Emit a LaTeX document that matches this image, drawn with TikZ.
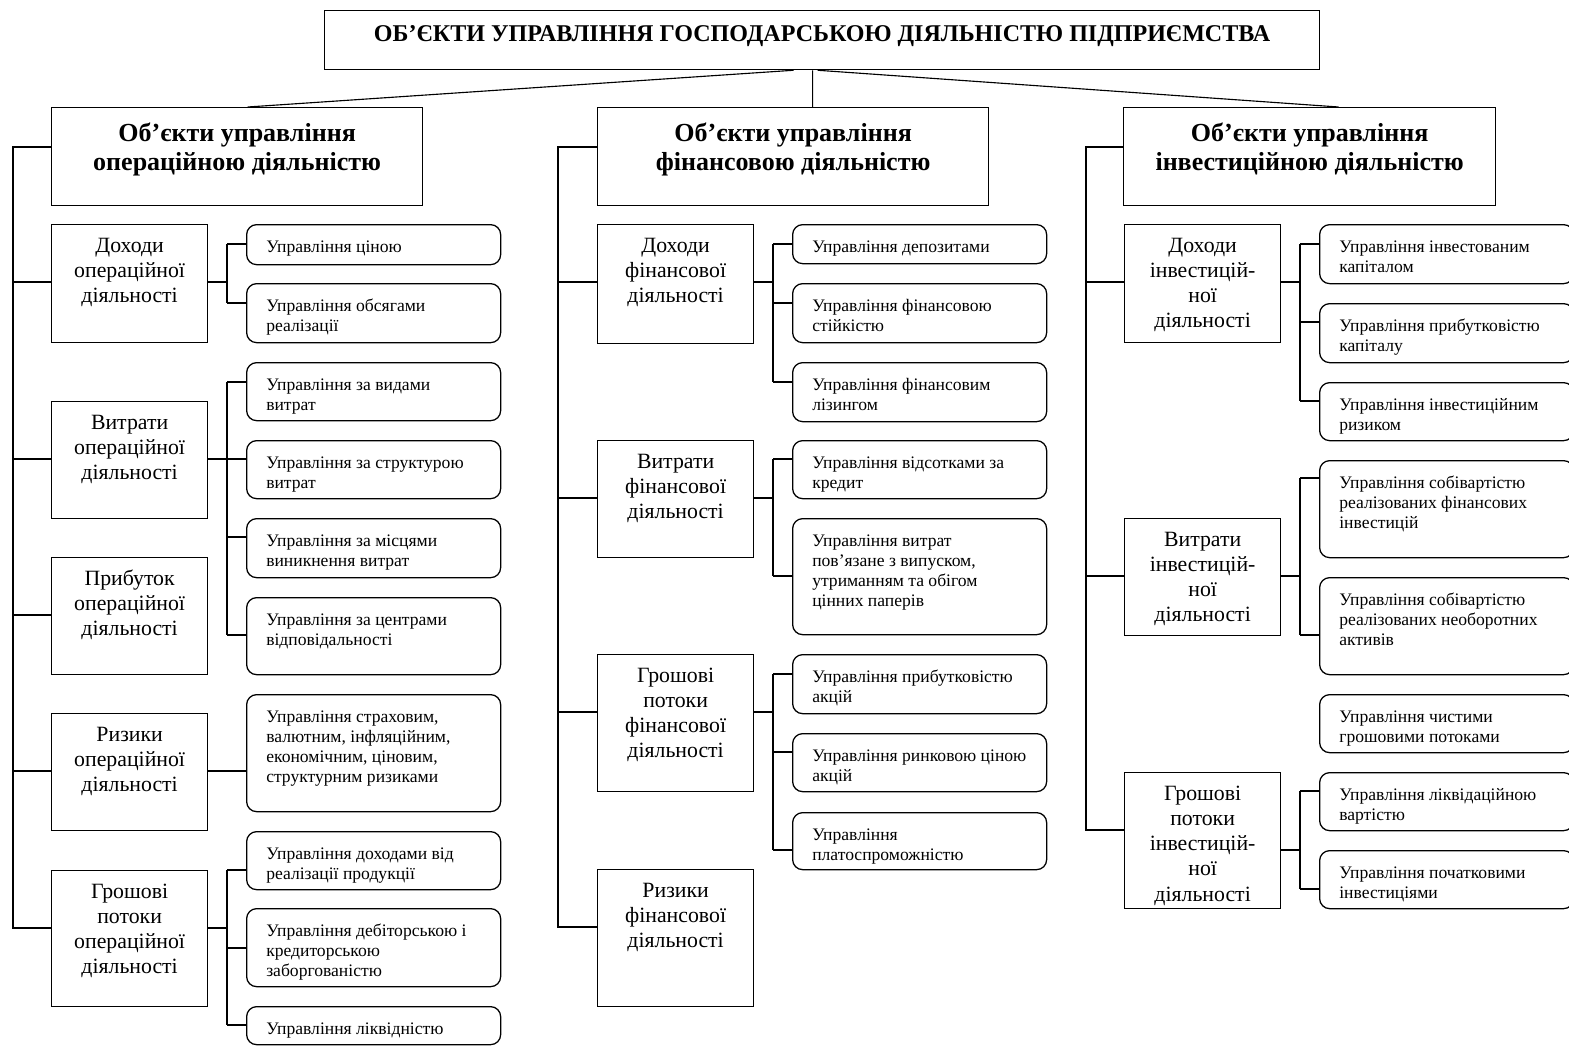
\documentclass[tikz,border=0pt]{standalone}
\usepackage{fontspec}
\setmainfont{Liberation Serif}

\newcommand{\pxu}{0.025cm}

\tikzset{
  conn/.style={line width=0.8pt},
  topbox/.style={draw, line width=0.9pt, anchor=north west, inner sep=0pt,
    minimum width=995*\pxu, minimum height=59*\pxu},
  headbox/.style={draw, line width=0.9pt, anchor=north west, inner sep=0pt,
    minimum width=371*\pxu, minimum height=98*\pxu},
  catbox/.style={draw, line width=0.9pt, anchor=north west, inner sep=0pt,
    minimum width=156*\pxu},
  itembox/.style={draw, line width=0.9pt, anchor=north west, inner sep=0pt,
    rounded corners=0.25cm, minimum width=254*\pxu},
  toptxt/.style={anchor=north, inner sep=0pt, font=\fontsize{17.1}{20}\selectfont\bfseries},
  headtxt/.style={anchor=north, inner sep=0pt, align=center,
    font=\fontsize{18.5}{20.6}\selectfont\bfseries},
  cattxt/.style={anchor=north, inner sep=0pt, align=center,
    font=\fontsize{15.5}{18}\selectfont},
  itemtxt/.style={anchor=north west, inner sep=0pt, align=left,
    font=\fontsize{12.5}{14.2}\selectfont},
}

\begin{document}
\begin{tikzpicture}[x=0.025cm, y=-0.025cm]
  \useasboundingbox (0,0) rectangle (1569,1045);

  % title and the three headers
  \node[topbox] (title) at (324,10) {};
  \node[toptxt] (title-t) at ([shift={(0,12)}]title.north)
    {\strut ОБ’ЄКТИ УПРАВЛІННЯ ГОСПОДАРСЬКОЮ ДІЯЛЬНІСТЮ ПІДПРИЄМСТВА};
  \node[headbox] (h1) at (51,107) {};
  \node[headbox, minimum width=391*\pxu] (h2) at (597,107) {};
  \node[headbox, minimum width=372*\pxu] (h3) at (1123,107) {};
  \foreach \bn/\bt in {h1/{Об’єкти управління\\операційною діяльністю},
                       h2/{Об’єкти управління\\фінансовою діяльністю},
                       h3/{Об’єкти управління\\інвестиційною діяльністю}}
    \node[headtxt] (\bn-t) at ([shift={(0,14)}]\bn.north) {\strut\bt};

  \draw[conn] ([xshift=-28.5*\pxu]title.south) -- ([xshift=10.5*\pxu]h1.north);
  \draw[conn] ([xshift=-9.5*\pxu]title.south) -- ([xshift=19.5*\pxu]h2.north);
  \draw[conn] ([xshift=-4.5*\pxu]title.south) -- ([xshift=29*\pxu]h3.north);

  % categories
  \foreach \bn/\bx/\by/\bh/\bt in {
      oc1/51/224/118/{Доходи\\операційної\\діяльності},
      oc2/51/401/117/{Витрати\\операційної\\діяльності},
      oc3/51/557/117/{Прибуток\\операційної\\діяльності},
      oc4/51/713/117/{Ризики\\операційної\\діяльності},
      oc5/51/870/136/{Грошові\\потоки\\операційної\\діяльності},
      mc1/597/224/119/{Доходи\\фінансової\\діяльності},
      mc2/597/440/117/{Витрати\\фінансової\\діяльності},
      mc3/597/654/137/{Грошові\\потоки\\фінансової\\діяльності},
      mc4/597/869/137/{Ризики\\фінансової\\діяльності},
      rc1/1124/224/118/{Доходи\\інвестицій-\\ної\\діяльності},
      rc2/1124/518/117/{Витрати\\інвестицій-\\ної\\діяльності},
      rc3/1124/772/136/{Грошові\\потоки\\інвестицій-\\ної\\діяльності}} {
    \node[catbox, minimum height=\bh*\pxu] (\bn) at (\bx,\by) {};
    \node[cattxt] (\bn-t) at ([shift={(0,10)}]\bn.north) {\strut\bt};
  }

  % items
  \foreach \bn/\bx/\by/\bh/\bt in {
      oi1/246/224/40/{Управління ціною},
      oi2/246/283/59/{Управління обсягами\\реалізації},
      oi3/246/362/58/{Управління за видами\\витрат},
      oi4/246/440/58/{Управління за структурою\\витрат},
      oi5/246/518/59/{Управління за місцями\\виникнення витрат},
      oi6/246/597/77/{Управління за центрами\\відповідальності},
      oi7/246/694/117/{Управління страховим,\\валютним, інфляційним,\\економічним, ціновим,\\структурним ризиками},
      oi8/246/831/58/{Управління доходами від\\реалізації продукції},
      oi9/246/908/78/{Управління дебіторською і\\кредиторською\\заборгованістю},
      oi10/246/1006/38/{Управління ліквідністю},
      mi1/792/224/39/{Управління депозитами},
      mi2/792/283/59/{Управління фінансовою\\стійкістю},
      mi3/792/362/59/{Управління фінансовим\\лізингом},
      mi4/792/440/58/{Управління відсотками за\\кредит},
      mi5/792/518/116/{Управління витрат\\пов’язане з випуском,\\утриманням та обігом\\цінних паперів},
      mi6/792/654/59/{Управління прибутковістю\\акцій},
      mi7/792/733/58/{Управління ринковою ціною\\акцій},
      mi8/792/812/57/{Управління\\платоспроможністю},
      ri1/1319/224/59/{Управління інвестованим\\капіталом},
      ri2/1319/303/59/{Управління прибутковістю\\капіталу},
      ri3/1319/382/58/{Управління інвестиційним\\ризиком},
      ri4/1319/460/97/{Управління собівартістю\\реалізованих фінансових\\інвестицій},
      ri5/1319/577/97/{Управління собівартістю\\реалізованих необоротних\\активів},
      ri6/1319/694/58/{Управління чистими\\грошовими потоками},
      ri7/1319/772/58/{Управління ліквідаційною\\вартістю},
      ri8/1319/850/58/{Управління початковими\\інвестиціями}} {
    \node[itembox, minimum height=\bh*\pxu] (\bn) at (\bx,\by) {};
    \node[itemtxt] (\bn-t) at ([shift={(20,14)}]\bn.north west) {\strut\bt};
  }

  % main spines
  \draw[conn] ([shift={(0,40)}]h1.north west) -- ++(-38,0) |- ([shift={(0,58)}]oc5.north west);
  \draw[conn] ([shift={(0,40)}]h2.north west) -- ++(-39,0) |- ([shift={(0,58)}]mc4.north west);
  \draw[conn] ([shift={(0,40)}]h3.north west) -- ++(-37,0) |- ([shift={(0,58)}]rc3.north west);
  \foreach \bn/\bd in {oc1/38,oc2/38,oc3/38,oc4/38,mc1/39,mc2/39,mc3/39,rc1/37,rc2/37}
    \draw[conn] ([shift={(0,58)}]\bn.north west) -- ++(-\bd,0);

  % category to branch
  \foreach \bn/\cy in {oc1/58,oc2/58,oc5/58,mc1/58,mc2/58,mc3/58,rc1/58,rc2/58,rc3/78}
    \draw[conn] ([shift={(0,\cy)}]\bn.north east) -- ++(20,0);
  \draw[conn] ([shift={(0,58)}]oc4.north east) -- ([shift={(0,77)}]oi7.north west);

  % branch to items
  \foreach \bn/\cy in {oi1/20,oi2/20,oi3/20,oi4/19,oi5/19,oi6/38,oi8/39,oi9/40,oi10/19,
                       mi1/20,mi2/20,mi3/20,mi4/19,mi5/58,mi6/20,mi7/19,mi8/38,
                       ri1/20,ri2/19,ri3/19,ri4/18,ri5/58,ri7/19,ri8/39}
    \draw[conn] ([shift={(0,\cy)}]\bn.north west) -- ++(-19,0);

  % branch lines
  \foreach \ba/\ca/\bb/\cb in {oi1/20/oi2/20, oi3/20/oi6/38, oi8/39/oi10/19,
                               mi1/20/mi3/20, mi4/19/mi5/58, mi6/20/mi8/38,
                               ri1/20/ri3/19, ri4/18/ri5/58, ri7/19/ri8/39}
    \draw[conn] ([shift={(-19,\ca)}]\ba.north west) -- ([shift={(-19,\cb)}]\bb.north west);
\end{tikzpicture}
\end{document}
